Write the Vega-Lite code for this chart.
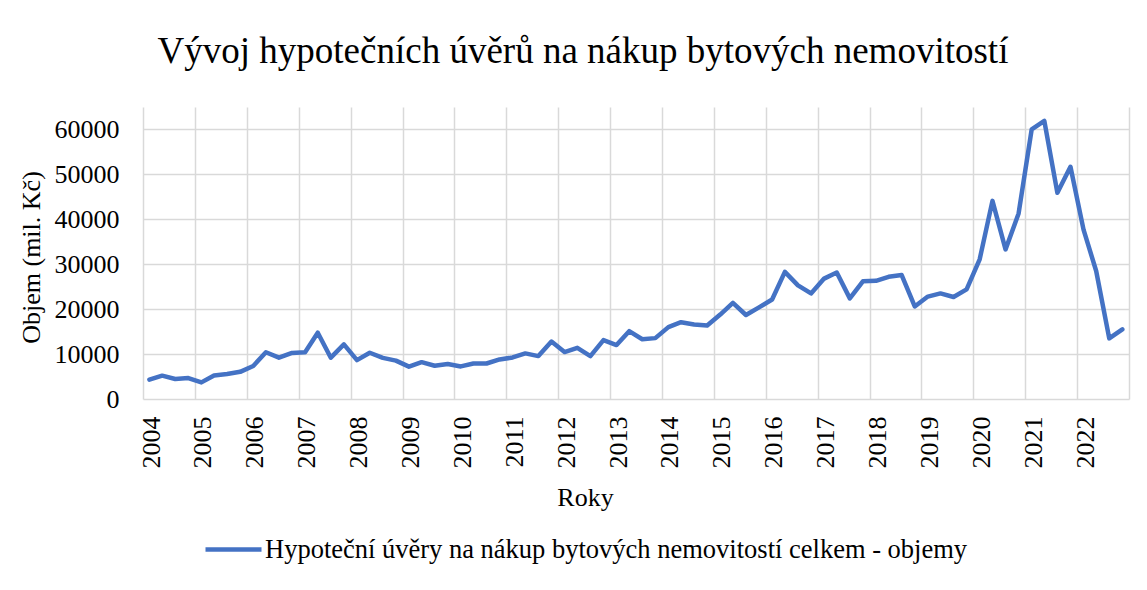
{
  "$schema": "https://vega.github.io/schema/vega-lite/v6.json",
  "autosize": {"type": "none"},
  "width": 986,
  "height": 292,
  "padding": {"left": 143, "top": 107, "right": 18, "bottom": 191},
  "background": "white",
  "title": {
    "text": "Vývoj hypotečních úvěrů na nákup bytových nemovitostí",
    "anchor": "middle",
    "frame": "group",
    "dx": -53,
    "baseline": "alphabetic",
    "offset": 7,
    "font": "Liberation Serif",
    "fontSize": 37,
    "fontWeight": "normal",
    "color": "#000000"
  },
  "config": {
    "view": {"stroke": null},
    "font": "Liberation Serif"
  },
  "data": {
    "values": [
      {"d": "2004-02-15", "v": 4300}, {"d": "2004-05-15", "v": 5200}, {"d": "2004-08-15", "v": 4450}, {"d": "2004-11-15", "v": 4650},
      {"d": "2005-02-15", "v": 3700}, {"d": "2005-05-15", "v": 5250}, {"d": "2005-08-15", "v": 5550}, {"d": "2005-11-15", "v": 6050},
      {"d": "2006-02-15", "v": 7350}, {"d": "2006-05-15", "v": 10400}, {"d": "2006-08-15", "v": 9200}, {"d": "2006-11-15", "v": 10250},
      {"d": "2007-02-15", "v": 10400}, {"d": "2007-05-15", "v": 14750}, {"d": "2007-08-15", "v": 9200}, {"d": "2007-11-15", "v": 12150},
      {"d": "2008-02-15", "v": 8650}, {"d": "2008-05-15", "v": 10300}, {"d": "2008-08-15", "v": 9150}, {"d": "2008-11-15", "v": 8550},
      {"d": "2009-02-15", "v": 7200}, {"d": "2009-05-15", "v": 8200}, {"d": "2009-08-15", "v": 7400}, {"d": "2009-11-15", "v": 7800},
      {"d": "2010-02-15", "v": 7250}, {"d": "2010-05-15", "v": 7900}, {"d": "2010-08-15", "v": 7900}, {"d": "2010-11-15", "v": 8800},
      {"d": "2011-02-15", "v": 9250}, {"d": "2011-05-15", "v": 10150}, {"d": "2011-08-15", "v": 9550}, {"d": "2011-11-15", "v": 12800},
      {"d": "2012-02-15", "v": 10450}, {"d": "2012-05-15", "v": 11400}, {"d": "2012-08-15", "v": 9550}, {"d": "2012-11-15", "v": 13100},
      {"d": "2013-02-15", "v": 12000}, {"d": "2013-05-15", "v": 15100}, {"d": "2013-08-15", "v": 13300}, {"d": "2013-11-15", "v": 13550},
      {"d": "2014-02-15", "v": 16000}, {"d": "2014-05-15", "v": 17100}, {"d": "2014-08-15", "v": 16600}, {"d": "2014-11-15", "v": 16350},
      {"d": "2015-02-15", "v": 18800}, {"d": "2015-05-15", "v": 21400}, {"d": "2015-08-15", "v": 18700}, {"d": "2015-11-15", "v": 20400},
      {"d": "2016-02-15", "v": 22150}, {"d": "2016-05-15", "v": 28300}, {"d": "2016-08-15", "v": 25300}, {"d": "2016-11-15", "v": 23500},
      {"d": "2017-02-15", "v": 26800}, {"d": "2017-05-15", "v": 28150}, {"d": "2017-08-15", "v": 22400}, {"d": "2017-11-15", "v": 26200},
      {"d": "2018-02-15", "v": 26300}, {"d": "2018-05-15", "v": 27200}, {"d": "2018-08-15", "v": 27600}, {"d": "2018-11-15", "v": 20600},
      {"d": "2019-02-15", "v": 22800}, {"d": "2019-05-15", "v": 23500}, {"d": "2019-08-15", "v": 22700}, {"d": "2019-11-15", "v": 24400},
      {"d": "2020-02-15", "v": 31100}, {"d": "2020-05-15", "v": 44100}, {"d": "2020-08-15", "v": 33300}, {"d": "2020-11-15", "v": 41300},
      {"d": "2021-02-15", "v": 60000}, {"d": "2021-05-15", "v": 61900}, {"d": "2021-08-15", "v": 45900}, {"d": "2021-11-15", "v": 51700},
      {"d": "2022-02-15", "v": 37700}, {"d": "2022-05-15", "v": 28500}, {"d": "2022-08-15", "v": 13500}, {"d": "2022-11-15", "v": 15500}
    ]
  },
  "transform": [{"calculate": "'Hypoteční úvěry na nákup bytových nemovitostí celkem - objemy'", "as": "series"}],
  "mark": {"type": "line", "strokeWidth": 4.5, "strokeCap": "round", "strokeJoin": "round"},
  "encoding": {
    "x": {
      "field": "d",
      "type": "temporal",
      "scale": {"type": "utc", "domain": [{"year": 2004, "utc": true}, {"year": 2023, "utc": true}], "nice": false},
      "axis": {
        "title": "Roky",
        "titleFont": "Liberation Serif",
        "titleFontSize": 26,
        "titleFontWeight": "normal",
        "titleColor": "#000000",
        "titleX": 442,
        "titleY": 106,
        "titleBaseline": "alphabetic",
        "titleAnchor": null,
        "titleAlign": "center",
        "values": [
          {"year": 2004, "utc": true}, {"year": 2005, "utc": true}, {"year": 2006, "utc": true}, {"year": 2007, "utc": true},
          {"year": 2008, "utc": true}, {"year": 2009, "utc": true}, {"year": 2010, "utc": true}, {"year": 2011, "utc": true},
          {"year": 2012, "utc": true}, {"year": 2013, "utc": true}, {"year": 2014, "utc": true}, {"year": 2015, "utc": true},
          {"year": 2016, "utc": true}, {"year": 2017, "utc": true}, {"year": 2018, "utc": true}, {"year": 2019, "utc": true},
          {"year": 2020, "utc": true}, {"year": 2021, "utc": true}, {"year": 2022, "utc": true}, {"year": 2023, "utc": true}
        ],
        "format": "%Y",
        "labelExpr": "datum.label == '2023' ? '' : datum.label",
        "labelAngle": -90,
        "labelAlign": "right",
        "labelBaseline": "middle",
        "labelOffset": 8,
        "labelPadding": 17,
        "labelFont": "Liberation Serif",
        "labelFontSize": 26,
        "labelColor": "#000000",
        "labelOverlap": false,
        "labelFlush": false,
        "ticks": false,
        "domain": false,
        "grid": true,
        "gridColor": "#D9D9D9",
        "gridWidth": 1.5
      }
    },
    "y": {
      "field": "v",
      "type": "quantitative",
      "scale": {"domain": [0, 65000], "nice": false},
      "axis": {
        "title": "Objem (mil. Kč)",
        "titleFont": "Liberation Serif",
        "titleFontSize": 26,
        "titleFontWeight": "normal",
        "titleColor": "#000000",
        "titleAngle": -90,
        "titleX": -112,
        "titleY": 150,
        "titleAlign": "center",
        "titleBaseline": "middle",
        "titleAnchor": null,
        "values": [0, 10000, 20000, 30000, 40000, 50000, 60000],
        "format": "d",
        "labelFont": "Liberation Serif",
        "labelFontSize": 26,
        "labelColor": "#000000",
        "labelPadding": 24,
        "labelBaseline": "middle",
        "ticks": false,
        "domain": false,
        "grid": true,
        "gridColor": "#D9D9D9",
        "gridWidth": 1.5
      }
    },
    "color": {
      "field": "series",
      "type": "nominal",
      "scale": {"range": ["#4472C4"]},
      "legend": {
        "title": null,
        "orient": "none",
        "legendX": 60,
        "legendY": 412,
        "symbolType": "stroke",
        "symbolSize": 3136,
        "symbolStrokeWidth": 4.5,
        "labelFont": "Liberation Serif",
        "labelFontSize": 26.5,
        "labelColor": "#000000",
        "labelLimit": 0,
        "labelOffset": 1
      }
    }
  }
}
